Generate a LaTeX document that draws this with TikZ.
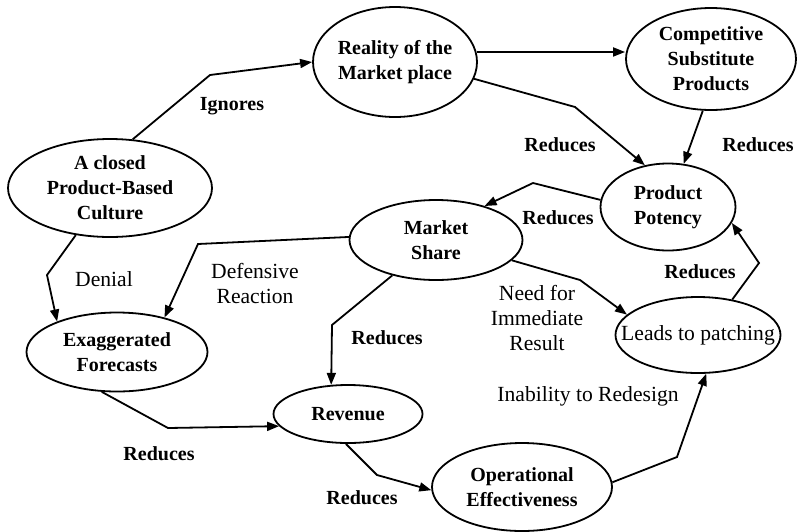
\documentclass[tikz,border=0pt]{standalone}
\usepackage{fontspec}
\setmainfont{Liberation Serif}
\usetikzlibrary{shapes.geometric,arrows.meta}

\begin{document}
\begin{tikzpicture}[x=0.5pt, y=-0.5pt,
        ell/.style={draw, ellipse, line width=0.9pt, inner sep=0pt, align=center, font=\fontsize{10}{12.5}\selectfont\bfseries},
        flow/.style={-{Triangle[length=6pt,width=4.5pt]}, line width=0.9pt},
        lbl/.style={font=\fontsize{10}{12.5}\selectfont\bfseries},
        note/.style={align=center, font=\fontsize{10.8}{12.5}\selectfont}]
        \useasboundingbox (0,0) rectangle (797,531);

        \node[ell, minimum width=102pt, minimum height=49pt] (culture) at (110,188) {A closed\\Product-Based\\Culture};
        \node[ell, minimum width=82pt, minimum height=55pt] (reality) at (395,62) {Reality of the\\Market place};
        \node[ell, minimum width=85pt, minimum height=51pt] (comp) at (711,59) {Competitive\\Substitute\\Products};
        \node[ell, minimum width=67.5pt, minimum height=43.5pt] (potency) at (668,207) {Product\\Potency};
        \node[ell, minimum width=86.5pt, minimum height=40pt] (share) at (436,240) {Market\\Share};
        \node[ell, minimum width=90.5pt, minimum height=39.5pt] (exag) at (117,352) {Exaggerated\\Forecasts};
        \node[ell, minimum width=74.5pt, minimum height=29pt] (revenue) at (348,414) {Revenue};
        \node[ell, minimum width=90pt, minimum height=44pt] (oper) at (522,487) {Operational\\Effectiveness};
        \node[ell, font=\fontsize{10.8}{12.5}\selectfont, minimum width=82.5pt, minimum height=38pt] (patch) at (698,335) {\makebox[0pt]{Leads to patching}};

        \node[lbl] (ignores) at (232,106) {Ignores};
        \node[lbl] (redreal) at (560,145) {Reduces};
        \node[lbl] (redcomp) at (758,145) {Reduces};
        \node[lbl] (redpot) at (558,218) {Reduces};
        \node[lbl] (redpatch) at (700,272) {Reduces};
        \node[lbl] (redshare) at (387,338) {Reduces};
        \node[lbl] (redexag) at (159,454) {Reduces};
        \node[lbl] (redrev) at (362,498) {Reduces};
        \node[note] (denial) at (104,279) {Denial};
        \node[note] (defensive) at (255,283) {Defensive\\Reaction};
        \node[note] (need) at (537,318) {Need for\\Immediate\\Result};
        \node[note] (inability) at (588,396) {Inability to Redesign};

        \draw[flow] (culture.65) -- (210,75) -- (reality.west);
        \draw[flow] (reality.7) -- (reality.7 -| comp.west);
        \draw[flow] (reality.348) -- (575,107) -- (potency.119);
        \draw[flow] (comp.261) -- (potency.70);
        \draw[flow] (potency.174) -- (533,183) -- (share.35);
        \draw[flow] (share.178) -- (198,244) -- (exag.36);
        \draw[flow] (culture.234) -- (47,275) -- (exag.153);
        \draw[flow] (share.219) -- (332,325) -- (revenue.120);
        \draw[flow] (share.345) -- (580,280) -- (patch.164);
        \draw[flow] (patch.46) -- (759,263) -- (potency.346);
        \draw[flow] (exag.249) -- (168,428) -- (revenue.190);
        \draw[flow] (revenue.266) -- (377,475) -- (oper.182);
        \draw[flow] (oper.3) -- (677,457) -- (patch.282);
    \end{tikzpicture}
\end{document}
